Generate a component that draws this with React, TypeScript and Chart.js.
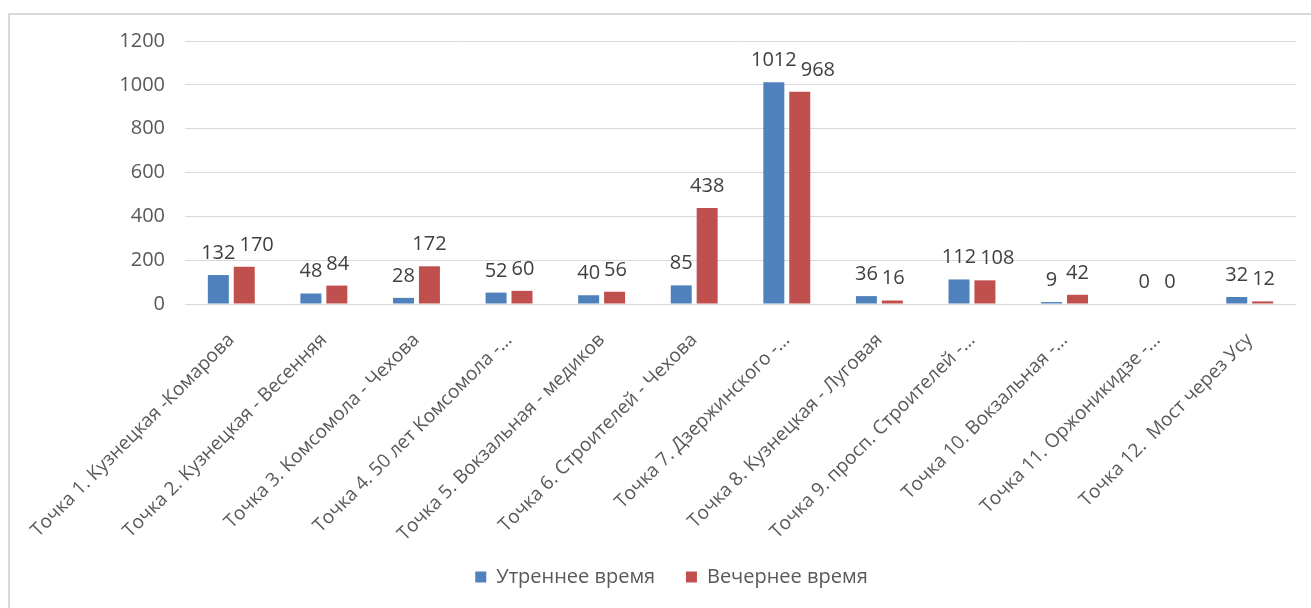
import React, { useEffect, useRef } from "react";
import { Chart, registerables } from "chart.js";

Chart.register(...registerables);

const categories = [
  "Точка 1. Кузнецкая -Комарова",
  "Точка 2. Кузнецкая - Весенняя",
  "Точка 3. Комсомола - Чехова",
  "Точка 4. 50 лет Комсомола -...",
  "Точка 5. Вокзальная - медиков",
  "Точка 6. Строителей - Чехова",
  "Точка 7. Дзержинского -...",
  "Точка 8. Кузнецкая - Луговая",
  "Точка 9. просп. Строителей -...",
  "Точка 10. Вокзальная -...",
  "Точка 11. Оржоникидзе -...",
  "Точка 12.  Мост через Усу",
];
const morningValues = [132, 48, 28, 52, 40, 85, 1012, 36, 112, 9, 0, 32];
const eveningValues = [170, 84, 172, 60, 56, 438, 968, 16, 108, 42, 0, 12];
const seriesNames = ["Утреннее время", "Вечернее время"];
const yTickValues = [0, 200, 400, 600, 800, 1000, 1200];

const FONT = "'Open Sans', 'Noto Sans', sans-serif";

const dataLabelPlugin = {
  id: "dataLabels",
  afterDatasetsDraw(chart: any) {
    const ctx = chart.ctx;
    ctx.save();
    ctx.font = `20px ${FONT}`;
    ctx.fillStyle = "#404040";
    ctx.textAlign = "center";
    ctx.textBaseline = "alphabetic";
    const m0 = chart.getDatasetMeta(0);
    const m1 = chart.getDatasetMeta(1);
    const d0 = chart.data.datasets[0].data;
    const d1 = chart.data.datasets[1].data;
    m0.data.forEach((el0: any, i: number) => {
      const el1 = m1.data[i];
      const t0 = String(d0[i]);
      const t1 = String(d1[i]);
      const w0 = ctx.measureText(t0).width;
      const w1 = ctx.measureText(t1).width;
      const x0 = el0.x;
      let x1 = el1.x;
      const y0 = el0.y - 16;
      const y1 = el1.y - 16;
      const right0 = x0 + w0 / 2;
      const left1 = x1 - w1 / 2;
      if (Math.abs(y0 - y1) < 20 && left1 < right0 + 4) {
        x1 = right0 + 4 + w1 / 2;
      }
      ctx.fillText(t0, x0, y0);
      ctx.fillText(t1, x1, y1);
    });
    ctx.restore();
  },
};

export default function App() {
  const ref = useRef<HTMLCanvasElement | null>(null);
  useEffect(() => {
    if (!ref.current) return;
    const chart = new Chart(ref.current, {
      type: "bar",
      data: {
        labels: categories,
        datasets: [
          {
            label: seriesNames[0],
            data: morningValues,
            backgroundColor: "#4f81bd",
            categoryPercentage: 0.56,
            barPercentage: 0.81,
          },
          {
            label: seriesNames[1],
            data: eveningValues,
            backgroundColor: "#c0504d",
            categoryPercentage: 0.56,
            barPercentage: 0.81,
          },
        ],
      },
      options: {
        animation: false,
        responsive: false,
        devicePixelRatio: 1,
        layout: { padding: { left: 47, right: 15, top: 41, bottom: 11 } },
        plugins: {
          tooltip: { enabled: false },
          legend: {
            position: "bottom",
            labels: {
              boxWidth: 11,
              boxHeight: 11,
              padding: 10,
              color: "#595959",
              font: { size: 20, family: FONT },
              generateLabels: (chart: any) => {
                const items = Chart.defaults.plugins.legend.labels.generateLabels(chart);
                items.forEach((it: any, i: number) => {
                  if (i === 0) it.text = it.text + "    ";
                });
                return items;
              },
            },
          },
        },
        scales: {
          x: {
            grid: { display: false },
            border: { display: false },
            ticks: {
              minRotation: 45,
              maxRotation: 45,
              autoSkip: false,
              padding: 17,
              color: "#595959",
              font: { size: 19, family: FONT },
            },
            afterFit: (scale: any) => {
              scale.height = 253;
            },
          },
          y: {
            min: 0,
            max: 1200,
            afterBuildTicks: (scale: any) => {
              scale.ticks = yTickValues.map((v) => ({ value: v }));
            },
            grid: { color: "#d9d9d9", lineWidth: 1, drawTicks: false },
            border: { display: false },
            ticks: {
              padding: 20,
              color: "#595959",
              font: { size: 20, family: FONT },
              callback: (v: any) => String(v),
            },
            afterFit: (scale: any) => {
              scale.width = 138;
            },
          },
        },
      },
      plugins: [dataLabelPlugin],
    });
    return () => chart.destroy();
  }, []);

  return (
    <div style={{ position: "fixed", left: 0, top: 0, width: 1311, height: 608, background: "#fff" }}>
      <div
        style={{
          position: "absolute",
          left: 8,
          top: 13,
          width: 1320,
          height: 620,
          border: "2px solid #d9d9d9",
          boxSizing: "border-box",
        }}
      />
      <canvas ref={ref} width={1311} height={608} style={{ position: "absolute", left: 0, top: 0 }} />
    </div>
  );
}
